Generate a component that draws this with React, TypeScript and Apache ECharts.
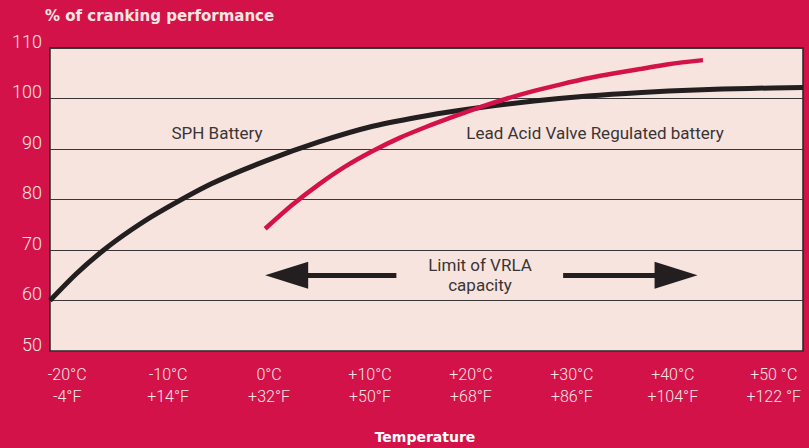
import React, { useEffect, useRef } from "react";
import * as echarts from "echarts";

// Data (°C, % of cranking performance)
const sphTemps = [-20, -17.5, -15, -12.5, -10, -5, 0, 5, 10, 15, 20, 25, 30, 35, 40, 45, 50];
const sphValues = [60, 65.4, 70.0, 73.9, 77.3, 83.1, 87.6, 91.4, 94.5, 96.6, 98.2, 99.5, 100.5, 101.2, 101.7, 102.0, 102.2];

const vrlaTemps = [0, 2.5, 5, 7.5, 10, 12.5, 15, 17.5, 20, 22.5, 25, 27.5, 30, 32.5, 35, 37.5, 40.7];
const vrlaValues = [74.2, 78.9, 83.0, 86.6, 89.6, 92.2, 94.4, 96.4, 98.3, 100.0, 101.5, 102.8, 104.0, 105.0, 105.9, 106.8, 107.6];

const celsiusLabels = ["-20°C", "-10°C", "0°C", "+10°C", "+20°C", "+30°C", "+40°C", "+50 °C"];
const fahrenheitLabels = ["-4°F", "+14°F", "+32°F", "+50°F", "+68°F", "+86°F", "+104°F", "+122 °F"];

const yTicks = [50, 60, 70, 80, 90, 100, 110];

// Limit of VRLA arrows (°C range, drawn at 65 %)
const arrowLeft = [12.2, 2.0];
const arrowRight = [27.7, 38.2];
const arrowLevel = 65;

const RED = "#D3124A";
const DARK = "#231F20";
const PLOT_BG = "#F8E4DF";
const LIGHT = "#F9E6E2";
const FONT = "Roboto";
const WIDE = "DejaVu Sans";

export default function App() {
  const ref = useRef<HTMLDivElement>(null);

  useEffect(() => {
    if (!ref.current) return;
    const chart = echarts.init(ref.current, null, { renderer: "svg" });
    const n = celsiusLabels.length;
    chart.setOption({
      animation: false,
      backgroundColor: RED,
      textStyle: { fontFamily: FONT },
      grid: {
        left: 50,
        right: 6,
        top: 48,
        bottom: 97,
        show: true,
        backgroundColor: PLOT_BG,
        borderColor: "#2a2526",
        borderWidth: 1.5,
      },
      xAxis: [
        {
          type: "value",
          min: -20,
          max: 50,
          axisLine: { show: false },
          axisTick: { show: false },
          axisLabel: { show: false },
          splitLine: { show: false },
        },
        {
          type: "value",
          position: "bottom",
          min: -0.17,
          max: 7.29,
          axisLine: { show: false },
          axisTick: { show: false },
          splitLine: { show: false },
          axisLabel: {
            customValues: celsiusLabels.map((_, i) => i),
            formatter: (v: number) => {
              const i = Math.round(v);
              if (i < 0 || i >= n) return "";
              return celsiusLabels[i] + "\n" + fahrenheitLabels[i];
            },
            color: LIGHT,
            fontSize: 16,
            lineHeight: 22,
            margin: 12,
            fontFamily: FONT,
            fontWeight: 300,
          },
        },
      ],
      yAxis: {
        type: "value",
        min: 50,
        max: 110,
        interval: 10,
        axisLine: { show: false },
        axisTick: { show: false },
        splitLine: { show: true, lineStyle: { color: "#3a3536", width: 1 } },
        axisLabel: {
          customValues: yTicks,
          color: LIGHT,
          fontSize: 18,
          lineHeight: 14,
          margin: 8,
          fontFamily: FONT,
          fontWeight: 300,
          verticalAlign: "bottom",
        },
      },
      series: [
        {
          type: "line",
          name: "SPH Battery",
          data: sphTemps.map((t, i) => [t, sphValues[i]]),
          smooth: 0.3,
          showSymbol: false,
          lineStyle: { color: DARK, width: 5 },
          z: 3,
        },
        {
          type: "line",
          name: "Lead Acid Valve Regulated battery",
          data: vrlaTemps.map((t, i) => [t, vrlaValues[i]]),
          smooth: 0.3,
          showSymbol: false,
          lineStyle: { color: RED, width: 4.5 },
          z: 4,
        },
        {
          type: "line",
          data: [],
          markLine: {
            silent: true,
            symbol: ["none", "triangle"],
            symbolSize: [27, 43],
            label: { show: false },
            lineStyle: { color: DARK, width: 5, type: "solid" },
            itemStyle: { color: DARK },
            data: [
              [{ coord: [arrowLeft[0], arrowLevel] }, { coord: [arrowLeft[1], arrowLevel] }],
              [{ coord: [arrowRight[0], arrowLevel] }, { coord: [arrowRight[1], arrowLevel] }],
            ],
          },
        },
      ],
      graphic: [
        {
          type: "text",
          left: 45,
          top: 8,
          style: {
            text: "% of cranking performance",
            fill: LIGHT,
            font: `bold 15px "${WIDE}"`,
          },
        },
        {
          type: "text",
          x: 425,
          y: 437,
          style: {
            text: "Temperature",
            fill: "#FFFFFF",
            font: `bold 14px "${WIDE}"`,
            textAlign: "center",
            textVerticalAlign: "middle",
          },
        },
        {
          type: "text",
          x: 217,
          y: 133,
          style: {
            text: "SPH Battery",
            fill: "#3a3435",
            font: `17px ${FONT}`,
            textAlign: "center",
            textVerticalAlign: "middle",
          },
        },
        {
          type: "text",
          x: 595,
          y: 133,
          style: {
            text: "Lead Acid Valve Regulated battery",
            fill: "#3a3435",
            font: `17px ${FONT}`,
            textAlign: "center",
            textVerticalAlign: "middle",
          },
        },
        {
          type: "text",
          x: 480,
          y: 275,
          style: {
            text: "Limit of VRLA\ncapacity",
            fill: "#3a3435",
            font: `17px ${FONT}`,
            lineHeight: 20,
            textAlign: "center",
            textVerticalAlign: "middle",
          },
        },
      ],
    });
    return () => chart.dispose();
  }, []);

  return (
    <div
      ref={ref}
      style={{ position: "fixed", left: 0, top: 0, width: 809, height: 448 }}
    />
  );
}
